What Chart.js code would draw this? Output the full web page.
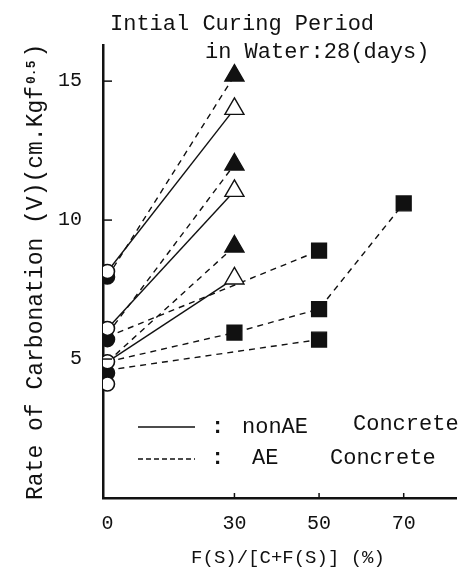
<!DOCTYPE html>
<html>
<head>
<meta charset="utf-8">
<title>Rate of Carbonation</title>
<script src="https://cdn.jsdelivr.net/npm/chart.js@4.4.1/dist/chart.umd.min.js"></script>
<style>
  html, body { margin: 0; padding: 0; background: #fff; }
  #wrap { width: 469px; height: 575px; }
</style>
</head>
<body>
<div id="wrap"><canvas id="carbChart"></canvas></div>
<script>
// values
const xTicks = [0, 30, 50, 70];
const yTicks = [5, 10, 15];

// fly ash mixes (triangles)
const xFA = [0, 30];
const nonAE1 = [8.15, 14.0];
const nonAE2 = [6.1, 11.05];
const nonAE3 = [4.9, 7.9];
const AE1 = [7.95, 15.2];
const AE2 = [5.9, 12.0];
const AE3 = [4.9, 9.05];

// slag mixes (squares)
const xSlag1 = [0, 50];
const slag1 = [5.8, 8.9];
const xSlag2 = [0, 30, 50, 70];
const slag2 = [4.9, 5.95, 6.8, 10.6];
const xSlag3 = [0, 50];
const slag3 = [4.6, 5.7];

// plain concrete (circles)
const xPlain = [0, 0, 0, 0];
const plainNonAE = [8.15, 6.1, 4.9, 4.1];
const xPlainAE = [0, 0, 0];
const plainAE = [7.95, 5.7, 4.5];

const INK = '#111';
const FONT = '"Liberation Mono", "DejaVu Sans Mono", monospace';

const pts = (xs, ys) => xs.map((x, i) => ({ x: x, y: ys[i] }));

// first point sits under a circle, so no marker there
const skipFirst = (r) => (c) => c.dataIndex === 0 ? 0 : r;

function lineSet(xs, ys, dashed, style, fill, r) {
  return {
    data: pts(xs, ys),
    showLine: true,
    borderColor: INK,
    borderWidth: 1.4,
    borderDash: dashed ? [6, 5] : [],
    pointStyle: style,
    pointRadius: skipFirst(r),
    pointBackgroundColor: fill,
    pointBorderColor: INK,
    pointBorderWidth: 1.4,
    order: 2
  };
}

const datasets = [
  {
    data: pts(xPlain, plainNonAE),
    pointStyle: 'circle', pointRadius: 7,
    pointBackgroundColor: '#fff', pointBorderColor: INK, pointBorderWidth: 1.6,
    order: 0
  },
  {
    data: pts(xPlainAE, plainAE),
    pointStyle: 'circle', pointRadius: 7,
    pointBackgroundColor: INK, pointBorderColor: INK, pointBorderWidth: 1.6,
    order: 1
  },
  lineSet(xFA, nonAE1, false, 'triangle', '#fff', 11),
  lineSet(xFA, nonAE2, false, 'triangle', '#fff', 11),
  lineSet(xFA, nonAE3, false, 'triangle', '#fff', 11),
  lineSet(xFA, AE1, true, 'triangle', INK, 11),
  lineSet(xFA, AE2, true, 'triangle', INK, 11),
  lineSet(xFA, AE3, true, 'triangle', INK, 11),
  lineSet(xSlag1, slag1, true, 'rect', INK, 10.5),
  lineSet(xSlag2, slag2, true, 'rect', INK, 10.5),
  lineSet(xSlag3, slag3, true, 'rect', INK, 10.5)
];

// inner tick marks, titles, legend
const decor = {
  id: 'decor',
  afterDraw(chart) {
    const ctx = chart.ctx;
    const a = chart.chartArea;
    const xs = chart.scales.x, ys = chart.scales.y;
    ctx.save();
    ctx.strokeStyle = INK;
    ctx.fillStyle = INK;
    ctx.lineWidth = 1.5;

    yTicks.forEach(v => {
      const y = ys.getPixelForValue(v);
      ctx.beginPath(); ctx.moveTo(a.left, y); ctx.lineTo(a.left + 9, y); ctx.stroke();
    });
    xTicks.slice(1).forEach(v => {
      const x = xs.getPixelForValue(v);
      ctx.beginPath(); ctx.moveTo(x, a.bottom); ctx.lineTo(x, a.bottom - 5); ctx.stroke();
    });

    ctx.textBaseline = 'alphabetic';
    ctx.textAlign = 'left';
    ctx.font = '22px ' + FONT;
    ctx.fillText('Intial Curing Period', 110, 30);
    ctx.fillText('in Water:28(days)', 205, 58);

    // legend
    ctx.lineWidth = 1.5;
    ctx.beginPath(); ctx.moveTo(138, 427); ctx.lineTo(195, 427); ctx.stroke();
    ctx.setLineDash([5, 3]);
    ctx.beginPath(); ctx.moveTo(138, 459); ctx.lineTo(195, 459); ctx.stroke();
    ctx.setLineDash([]);
    ctx.font = 'bold 22px ' + FONT;
    ctx.fillText(':', 211, 433);
    ctx.fillText(':', 211, 464);
    ctx.font = '22px ' + FONT;
    ctx.fillText('nonAE', 242, 433);
    ctx.fillText('Concrete', 353, 430);
    ctx.fillText('AE', 252, 464);
    ctx.fillText('Concrete', 330, 464);

    // x axis title
    ctx.textAlign = 'center';
    ctx.font = '19px ' + FONT;
    ctx.fillText('F(S)/[C+F(S)] (%)', 288, 563);

    // y axis title with superscript
    ctx.translate(42, 500);
    ctx.rotate(-Math.PI / 2);
    ctx.textAlign = 'left';
    ctx.font = '23px ' + FONT;
    const main = 'Rate of Carbonation (V)(cm.Kgf';
    ctx.fillText(main, 0, 0);
    let w = ctx.measureText(main).width;
    ctx.font = 'bold 13px ' + FONT;
    ctx.fillText('0.5', w + 2, -7);
    w += ctx.measureText('0.5').width + 5;
    ctx.font = '23px ' + FONT;
    ctx.fillText(')', w, 0);
    ctx.restore();
  }
};

new Chart(document.getElementById('carbChart'), {
  type: 'scatter',
  data: { datasets: datasets },
  options: {
    responsive: true,
    maintainAspectRatio: false,
    animation: false,
    layout: { padding: { left: 0, top: 45, right: 11, bottom: 0 } },
    plugins: { legend: { display: false }, tooltip: { enabled: false } },
    scales: {
      x: {
        type: 'linear',
        min: -1.06,
        max: 82.5,
        afterFit: s => { s.height = 77; },
        afterBuildTicks: s => { s.ticks = xTicks.map(v => ({ value: v })); },
        grid: { display: false, drawTicks: false },
        border: { display: true, color: INK, width: 2.5 },
        ticks: { color: INK, padding: 14, font: { family: FONT, size: 20 } }
      },
      y: {
        type: 'linear',
        min: 0,
        max: 16.3,
        afterFit: s => { s.width = 103; },
        afterBuildTicks: s => { s.ticks = yTicks.map(v => ({ value: v })); },
        grid: { display: false, drawTicks: false },
        border: { display: true, color: INK, width: 2.5 },
        ticks: { color: INK, padding: 21, font: { family: FONT, size: 20 } }
      }
    }
  },
  plugins: [decor]
});
</script>
</body>
</html>
